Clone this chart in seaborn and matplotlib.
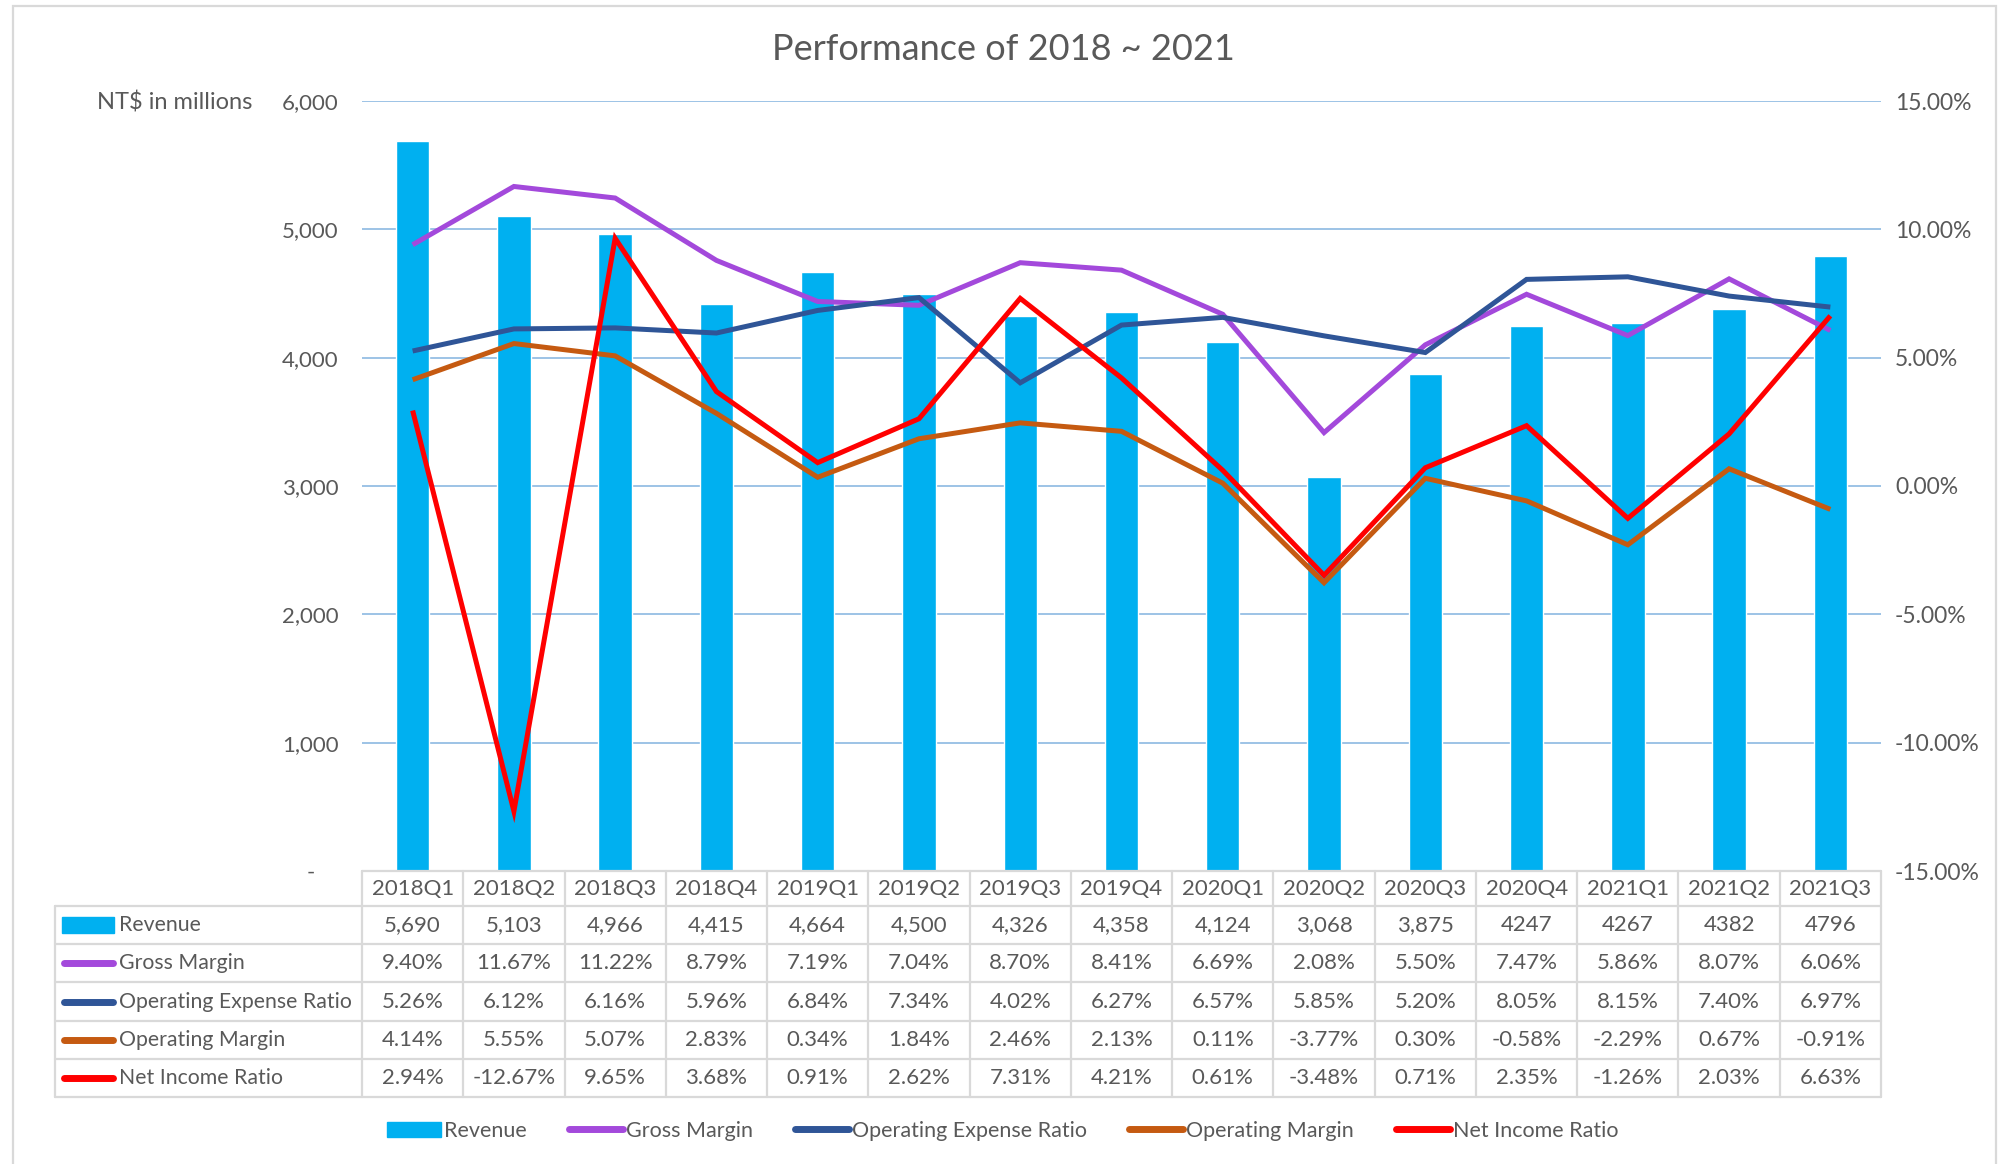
import numpy as np
import pandas as pd
import matplotlib
matplotlib.use('Agg')
import matplotlib.pyplot as plt
import seaborn as sns
from matplotlib.lines import Line2D
from matplotlib.patches import Patch, Rectangle

# ---------------- data ----------------
quarters = ["2018Q1", "2018Q2", "2018Q3", "2018Q4", "2019Q1", "2019Q2", "2019Q3", "2019Q4",
            "2020Q1", "2020Q2", "2020Q3", "2020Q4", "2021Q1", "2021Q2", "2021Q3"]
revenue = [5690, 5103, 4966, 4415, 4664, 4500, 4326, 4358, 4124, 3068, 3875, 4247, 4267, 4382, 4796]
revenue_labels = ["5,690", "5,103", "4,966", "4,415", "4,664", "4,500", "4,326", "4,358",
                  "4,124", "3,068", "3,875", "4247", "4267", "4382", "4796"]
gross_margin = [9.40, 11.67, 11.22, 8.79, 7.19, 7.04, 8.70, 8.41, 6.69, 2.08, 5.50, 7.47, 5.86, 8.07, 6.06]
opex_ratio = [5.26, 6.12, 6.16, 5.96, 6.84, 7.34, 4.02, 6.27, 6.57, 5.85, 5.20, 8.05, 8.15, 7.40, 6.97]
op_margin = [4.14, 5.55, 5.07, 2.83, 0.34, 1.84, 2.46, 2.13, 0.11, -3.77, 0.30, -0.58, -2.29, 0.67, -0.91]
net_income = [2.94, -12.67, 9.65, 3.68, 0.91, 2.62, 7.31, 4.21, 0.61, -3.48, 0.71, 2.35, -1.26, 2.03, 6.63]

series_names = ["Gross Margin", "Operating Expense Ratio", "Operating Margin", "Net Income Ratio"]
series_values = [gross_margin, opex_ratio, op_margin, net_income]
series_colors = ["#A349DB", "#2F5597", "#C55A11", "#FF0000"]

left_ticks = [0, 1000, 2000, 3000, 4000, 5000, 6000]
right_ticks = [-15, -10, -5, 0, 5, 10, 15]

BLUE = "#00B0F0"
GRAY = "#595959"
GRID = "#9DC3E6"
BORDER = "#D9D9D9"

# ---------------- figure ----------------
sns.set_theme(style="white")
plt.rcParams['font.family'] = ['Lato', 'DejaVu Sans']

W, H = 2006, 1164
fig = plt.figure(figsize=(W / 100, H / 100), dpi=100)
fig.patch.set_facecolor("white")

def fx(x):
    return x / W

def fy(y):
    return 1 - y / H

L, R, T, B = 362, 1881, 101, 871
ax = fig.add_axes([fx(L), fy(B), (R - L) / W, (B - T) / H])

df = pd.DataFrame({"Quarter": quarters, "Revenue": revenue})
sns.barplot(data=df, x="Quarter", y="Revenue", ax=ax, color=BLUE, width=0.33,
            saturation=1, zorder=2)
ax.set_xlim(-0.5, len(quarters) - 0.5)
ax.set_ylim(left_ticks[0], left_ticks[-1])
ax.set_yticks(left_ticks)
ax.set_yticklabels(["-    " if v == 0 else f"{v:,}" for v in left_ticks])
ax.tick_params(axis="y", length=0, pad=17, labelsize=16, labelcolor=GRAY)
ax.set_xticks([])
ax.set_xlabel("")
ax.set_ylabel("")
for s in ax.spines.values():
    s.set_visible(False)
for v in left_ticks[1:]:
    ax.axhline(v, color=GRID, lw=1.4, zorder=0)

ax2 = ax.twinx()
xpos = np.arange(len(quarters))
for name, vals, col in zip(series_names, series_values, series_colors):
    sns.lineplot(x=xpos, y=vals, ax=ax2, color=col, lw=3.6, legend=False,
                 solid_capstyle="butt", solid_joinstyle="miter")
ax2.set_ylim(right_ticks[0], right_ticks[-1])
ax2.set_yticks(right_ticks)
ax2.set_yticklabels([f"{v:.2f}%" for v in right_ticks])
ax2.tick_params(axis="y", length=0, pad=10, labelsize=16.5, labelcolor=GRAY)
ax2.set_xlim(-0.5, len(quarters) - 0.5)
ax2.set_ylabel("")
ax2.grid(False)
for s in ax2.spines.values():
    s.set_visible(False)

# title and axis label
fig.text(0.5, fy(49), "Performance of 2018 ~ 2021", ha="center", va="center",
         fontsize=26, color=GRAY)
fig.text(fx(252), fy(103), "NT$ in millions", ha="right", va="center",
         fontsize=17, color=GRAY)

# ---------------- data table ----------------
ncol = len(quarters)
col_w = (R - L) / ncol
tbl_left = 55
y_edges = [871, 906] + [906 + 38.2 * (i + 1) for i in range(5)]

def hline(x0, x1, y):
    fig.add_artist(Line2D([fx(x0), fx(x1)], [fy(y), fy(y)], color=BORDER, lw=1.6,
                          transform=fig.transFigure, zorder=5))

def vline(x, y0, y1):
    fig.add_artist(Line2D([fx(x), fx(x)], [fy(y0), fy(y1)], color=BORDER, lw=1.6,
                          transform=fig.transFigure, zorder=5))

hline(L, R, y_edges[0])
for y in y_edges[1:]:
    hline(tbl_left, R, y)
for i in range(ncol + 1):
    vline(L + i * col_w, y_edges[0], y_edges[-1])
vline(tbl_left, y_edges[1], y_edges[-1])

# header
yc = (y_edges[0] + y_edges[1]) / 2
for i, q in enumerate(quarters):
    fig.text(fx(L + (i + 0.5) * col_w), fy(yc), q, ha="center", va="center",
             fontsize=16, color=GRAY)

row_labels = ["Revenue"] + series_names
row_texts = [revenue_labels] + [[f"{v:.2f}%" for v in vals] for vals in series_values]
row_colors = [BLUE] + series_colors
for r, (lab, texts, col) in enumerate(zip(row_labels, row_texts, row_colors)):
    yc = (y_edges[r + 1] + y_edges[r + 2]) / 2
    if r == 0:
        fig.add_artist(Rectangle((fx(62), fy(yc + 8)), 52 / W, 16 / H, color=col,
                                 transform=fig.transFigure, zorder=6))
    else:
        fig.add_artist(Line2D([fx(64), fx(113)], [fy(yc), fy(yc)], color=col, lw=5,
                              solid_capstyle="round", transform=fig.transFigure, zorder=6))
    fig.text(fx(119), fy(yc), lab, ha="left", va="center", fontsize=15.3, color=GRAY)
    for i, t in enumerate(texts):
        fig.text(fx(L + (i + 0.5) * col_w), fy(yc), t, ha="center", va="center",
                 fontsize=16, color=GRAY)

# ---------------- legend ----------------
handles = [Patch(facecolor=BLUE, edgecolor=BLUE)] + \
          [Line2D([0], [0], color=c, lw=5, solid_capstyle="round") for c in series_colors]
fig.legend(handles, row_labels, loc="center", bbox_to_anchor=(0.5, fy(1131)), ncol=5,
           frameon=False, fontsize=15.5, handlelength=2.5, handletextpad=0.15,
           columnspacing=1.95, labelcolor=GRAY)

# outer border
fig.add_artist(Rectangle((fx(13), -0.01), (1996 - 13) / W, fy(6) + 0.01, fill=False,
                         ec=BORDER, lw=1.6, transform=fig.transFigure))

fig.savefig("out.png", dpi=100, facecolor="white")
